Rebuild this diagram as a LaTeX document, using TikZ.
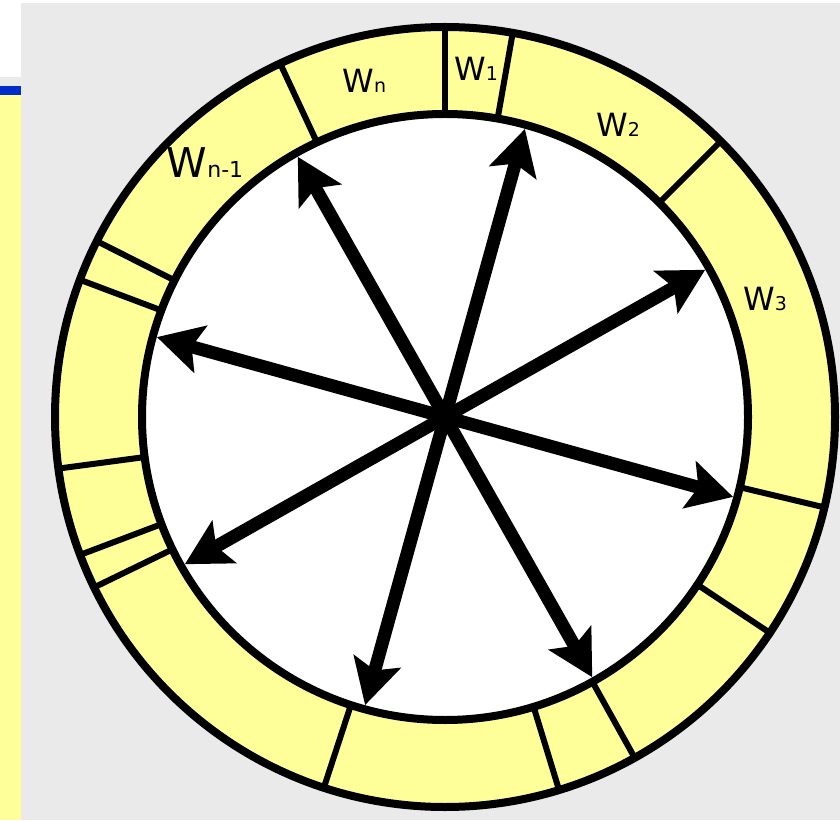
\documentclass[tikz,border=0pt]{standalone}
\usepackage{fontspec}
\setmainfont{DejaVu Sans}
\usepackage{tikz}
\usetikzlibrary{arrows.meta}
\definecolor{fondo}{RGB}{234,234,234}
\definecolor{amarillo}{RGB}{255,255,153}
\definecolor{azul}{RGB}{0,45,204}
\newcommand{\peso}[1]{W{\fontsize{19}{22}\selectfont #1}}

\begin{document}
\begin{tikzpicture}[
  x=1pt, y=1pt,
  anillo/.style={draw=black, line width=8pt, fill=amarillo},
  hueco/.style={draw=black, line width=8pt, fill=white},
  separador/.style={draw=black, line width=6pt},
  flecha/.style={draw=black, line width=13pt,
    -{Stealth[length=45pt, width=48pt, inset=9pt]}},
  etiqueta/.style={font=\fontsize{32}{38}\selectfont, inner sep=0pt},
  etiquetagrande/.style={font=\fontsize{41}{48}\selectfont, inner sep=0pt}
]
\useasboundingbox (0,0) rectangle (840,820);

% ── FONDO ────────────────────────────────────────────────────
\fill[fondo] (0,0) rectangle (840,820);
\fill[white] (0,817) rectangle (840,820);
\fill[white] (0,743) rectangle (21,820);
\fill[azul] (0,725) rectangle (21,734);
\fill[amarillo] (0,0) rectangle (21,725);

\begin{scope}[shift={(445,403)}]

% ── ANILLO ───────────────────────────────────────────────────
\path[anillo] (0,0) circle[radius=390];

% separadores
\draw[separador] (90:303)    -- (90:390);
\draw[separador] (80:303)    -- (80:390);
\draw[separador] (115:303)   -- (115:390);
\draw[separador] (45:303)    -- (45:390);
\draw[separador] (-13.4:303) -- (-13.4:390);
\draw[separador] (-33.6:303) -- (-33.6:390);
\draw[separador] (-60.9:303) -- (-60.9:390);
\draw[separador] (-73:303)   -- (-73:390);
\draw[separador] (-108.1:303) -- (-108.1:390);
\draw[separador] (205.9:303) -- (205.9:390);
\draw[separador] (200.7:303) -- (200.7:390);
\draw[separador] (187.6:303) -- (187.6:390);
\draw[separador] (159.4:303) -- (159.4:390);
\draw[separador] (153.2:303) -- (153.2:390);

\path[hueco] (0,0) circle[radius=303];

% ── ETIQUETAS ────────────────────────────────────────────────
\node[etiqueta] (w1) at (84.9:350) {\peso{1}};
\node[etiqueta] (wn) at (103.5:346) {\peso{n}};
\node[etiqueta] (w2) at (59.4:340) {\peso{2}};
\node[etiqueta] (w3) at (20.2:341) {\peso{3}};
\node[etiquetagrande] (wn1) at (133.3:350) {W{\fontsize{22}{26}\selectfont n-1}};

% ── FLECHAS ──────────────────────────────────────────────────
\coordinate (centro) at (0,0);
\coordinate (p1) at (74.5:299);
\coordinate (p2) at (29.5:299);
\coordinate (p3) at (-15.5:299);
\coordinate (p4) at (-60.5:299);
\coordinate (p5) at (-105.5:299);
\coordinate (p6) at (-150.5:299);
\coordinate (p7) at (164.5:299);
\coordinate (p8) at (119.5:299);

\draw[flecha] (centro) -- (p1);
\draw[flecha] (centro) -- (p2);
\draw[flecha] (centro) -- (p3);
\draw[flecha] (centro) -- (p4);
\draw[flecha] (centro) -- (p5);
\draw[flecha] (centro) -- (p6);
\draw[flecha] (centro) -- (p7);
\draw[flecha] (centro) -- (p8);

\end{scope}
\end{tikzpicture}
\end{document}
